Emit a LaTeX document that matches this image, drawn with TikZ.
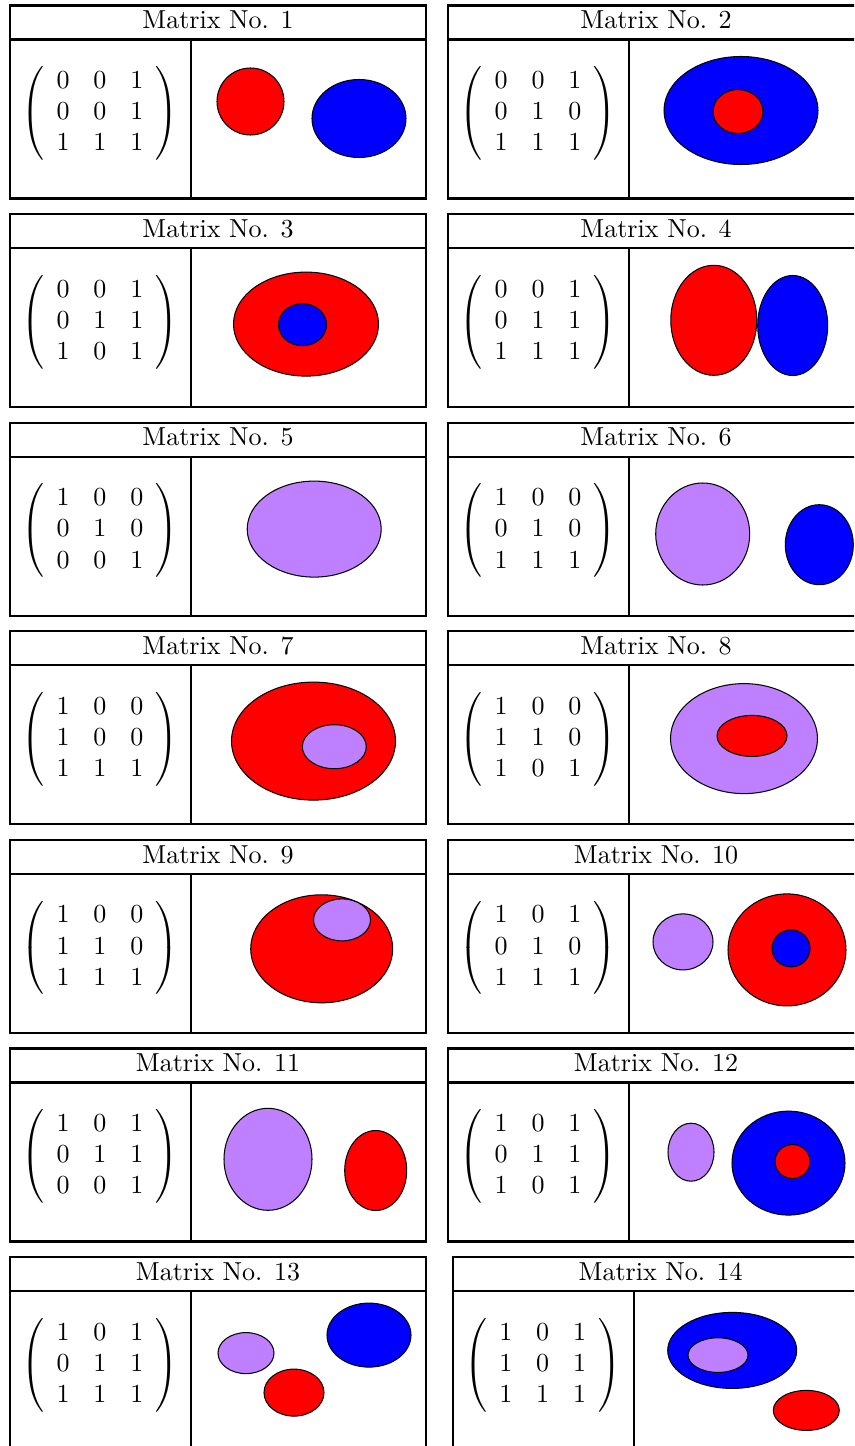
\documentclass[tikz,border=0pt]{standalone}
\usepackage{amsmath}
\usetikzlibrary{positioning}
\definecolor{lav}{HTML}{BF80FF}
\setlength{\arraycolsep}{4.6pt}

% one panel: #1 x0, #2 y0, #3 number, #4 matrix rows, #5 blobs (cx/cy/rx/ry/colour)
\newcommand{\mpanel}[5]{%
  \begin{scope}[shift={(#1,#2)}]
    \draw[frame] (0,0) rectangle (416,193);
    \draw[frame] (0,34) -- (416,34);
    \draw[frame] (181,34) -- (181,193);
    \node[title] (t#3) at (208,14.5) {Matrix No. #3};
    \node[mx] (m#3) at (90,108) {$\left(\begin{array}{ccc}#4\end{array}\right)$};
    \foreach \cx/\cy/\rx/\ry/\c in {#5}
      \draw[blob, fill=\c] (\cx,\cy) ellipse [x radius=\rx, y radius=\ry];
  \end{scope}}

\begin{document}
\begin{tikzpicture}[x=0.3846pt, y=-0.3846pt,
    frame/.style={draw=black, line width=0.85pt},
    title/.style={inner sep=0pt},
    mx/.style={inner sep=0pt},
    blob/.style={draw=black, line width=0.4pt}]

  \useasboundingbox (0,0) rectangle (854,1446);
  \clip (0,0) rectangle (854,1446);

  % row 1
  \mpanel{10}{5.5}{1}{0&0&1\\0&0&1\\1&1&1}
    {240.5/96/33.5/33.5/red, 349/113/47/39/blue}
  \mpanel{448}{5.5}{2}{0&0&1\\0&1&0\\1&1&1}
    {293/105/77/54/blue, 290/106/25/22/red}

  % row 2
  \mpanel{10}{214.1}{3}{0&0&1\\0&1&1\\1&0&1}
    {296/110/72.5/52/red, 292.5/110.6/24/21/blue}
  \mpanel{448}{214.1}{4}{0&0&1\\0&1&1\\1&1&1}
    {265.8/106.2/43/55/red, 344.7/111.4/35/50/blue}

  % row 3
  \mpanel{10}{422.7}{5}{1&0&0\\0&1&0\\0&0&1}
    {304.2/106.4/67/48/lav}
  \mpanel{448}{422.7}{6}{1&0&0\\0&1&0\\1&1&1}
    {254.7/111.3/47/51/lav, 371.3/122/34/40/blue}

  % row 4
  \mpanel{10}{631.3}{7}{1&0&0\\1&0&0\\1&1&1}
    {303.5/109.8/82/59/red, 324.3/115.4/32/22/lav}
  \mpanel{448}{631.3}{8}{1&0&0\\1&1&0\\1&0&1}
    {296/107.3/73.5/55/lav, 304/104.6/35/20.5/red}

  % row 5
  \mpanel{10}{839.9}{9}{1&0&0\\1&1&0\\1&1&1}
    {311.7/108.9/71/54/red, 332/80/28.5/21/lav}
  \mpanel{448}{839.9}{10}{1&0&1\\0&1&0\\1&1&1}
    {235/102/30/28/lav, 339/110/59/56/red, 343/108.5/19/18.5/blue}

  % row 6
  \mpanel{10}{1048.5}{11}{1&0&1\\0&1&1\\0&0&1}
    {258/110.8/44/51/lav, 365.7/122/31/40/red}
  \mpanel{448}{1048.5}{12}{1&0&1\\0&1&1\\1&0&1}
    {243/103.7/23/29/lav, 340.5/114.6/56.5/52/blue, 344.5/113/17.5/17/red}

  % row 7
  \mpanel{10}{1257.1}{13}{1&0&1\\0&1&1\\1&1&1}
    {236/96/28/20.5/lav, 284/135.5/30/23.5/red, 359/78/42/32/blue}
  \mpanel{452.7}{1257.1}{14}{1&0&1\\1&0&1\\1&1&1}
    {279.5/93.3/64.5/38/blue, 265.3/98/30/17.3/lav, 353.6/153.3/33/20/red}
\end{tikzpicture}
\end{document}
